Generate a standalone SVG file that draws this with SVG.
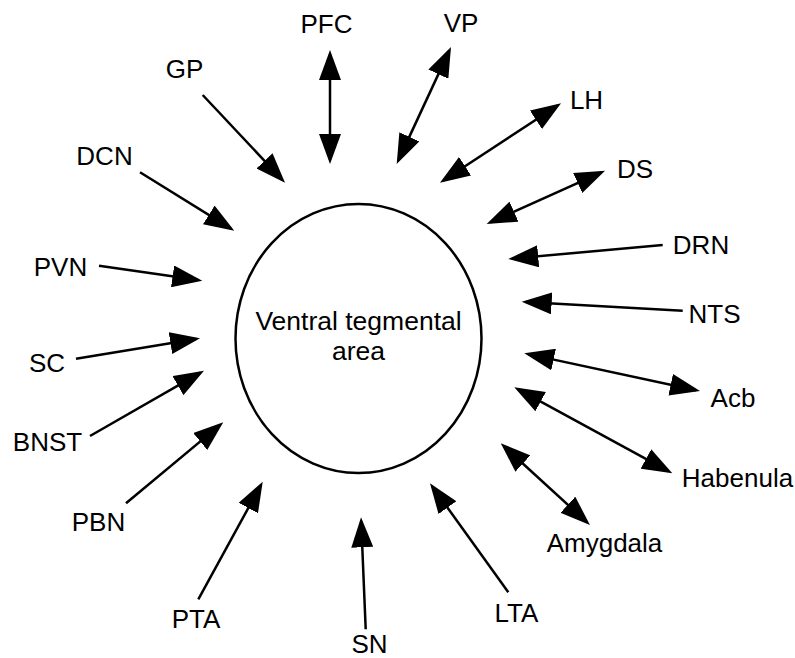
<svg xmlns="http://www.w3.org/2000/svg" width="795" height="658" viewBox="0 0 795 658">
<style>
text { font-family: "Liberation Sans", Arial, sans-serif; font-size: 26px; fill: #000; text-anchor: middle; }
.c line { stroke: #000; stroke-width: 2.5; fill: none; }
.uni { marker-end: url(#ah); }
.bi { marker-start: url(#ah); marker-end: url(#ah); }
</style>
<defs>
<marker id="ah" markerUnits="userSpaceOnUse" markerWidth="30" markerHeight="22" refX="26" refY="11" orient="auto-start-reverse">
<path d="M0,0 L30,11 L0,22 z" fill="#000"/>
</marker>
</defs>
<rect width="795" height="658" fill="#fff"/>
<g id="vta">
<ellipse cx="358.5" cy="338.5" rx="123" ry="134.5" fill="#fff" stroke="#000" stroke-width="2.5"/>
<text x="358.5" y="330" style="font-size:26.5px">Ventral tegmental</text>
<text x="358.5" y="360" style="font-size:26.5px">area</text>
</g>
<g id="connectors" class="c">
<line class="bi" x1="330" y1="54" x2="330" y2="160"/>
<line class="bi" x1="449.3" y1="50.6" x2="398.4" y2="160.4"/>
<line class="uni" x1="202.7" y1="95" x2="282.3" y2="179.8"/>
<line class="bi" x1="557.7" y1="105.5" x2="443.3" y2="180.5"/>
<line class="bi" x1="601.4" y1="172.3" x2="490.3" y2="222.4"/>
<line class="uni" x1="662.7" y1="245" x2="512.3" y2="258.6"/>
<line class="uni" x1="682.7" y1="310.7" x2="525.7" y2="301.9"/>
<line class="bi" x1="528.2" y1="354.1" x2="696.1" y2="390.2"/>
<line class="bi" x1="517.8" y1="389.2" x2="668.8" y2="471.4"/>
<line class="bi" x1="503.7" y1="446" x2="587" y2="522.3"/>
<line class="uni" x1="508.3" y1="592.3" x2="432.3" y2="486.5"/>
<line class="uni" x1="365.7" y1="629.3" x2="361.2" y2="521.3"/>
<line class="uni" x1="198.3" y1="599.3" x2="260.8" y2="485.2"/>
<line class="uni" x1="126" y1="503.3" x2="220.2" y2="424.9"/>
<line class="uni" x1="90" y1="436" x2="200.5" y2="372.7"/>
<line class="uni" x1="76" y1="358.7" x2="196.1" y2="338.9"/>
<line class="uni" x1="99" y1="265.7" x2="198.3" y2="280.1"/>
<line class="uni" x1="140" y1="172.3" x2="230.9" y2="228.6"/>
</g>
<g id="PFC"><text x="326.5" y="33">PFC</text></g>
<g id="VP"><text x="461" y="32">VP</text></g>
<g id="GP"><text x="184.5" y="78">GP</text></g>
<g id="LH"><text x="586.5" y="109">LH</text></g>
<g id="DS"><text x="635" y="178">DS</text></g>
<g id="DRN"><text x="701" y="254">DRN</text></g>
<g id="NTS"><text x="714.5" y="323">NTS</text></g>
<g id="Acb"><text x="733" y="407">Acb</text></g>
<g id="Habenula"><text x="737.5" y="487">Habenula</text></g>
<g id="Amygdala"><text x="604.5" y="552">Amygdala</text></g>
<g id="LTA"><text x="516.5" y="622">LTA</text></g>
<g id="SN"><text x="369.5" y="653">SN</text></g>
<g id="PTA"><text x="196" y="628">PTA</text></g>
<g id="PBN"><text x="98.5" y="531">PBN</text></g>
<g id="BNST"><text x="47.5" y="451">BNST</text></g>
<g id="SC"><text x="47" y="372">SC</text></g>
<g id="PVN"><text x="60.5" y="276">PVN</text></g>
<g id="DCN"><text x="104.5" y="165">DCN</text></g>
</svg>
